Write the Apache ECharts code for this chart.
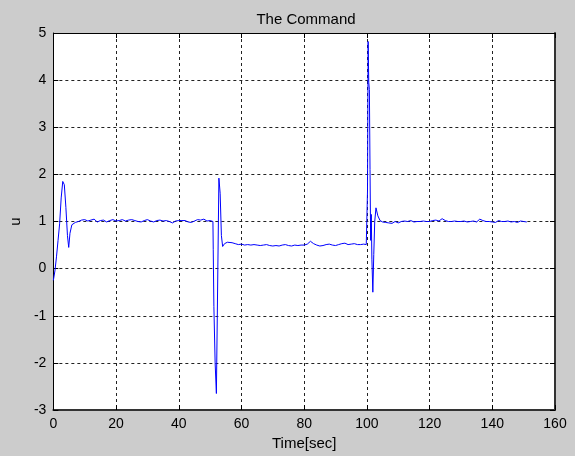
<!DOCTYPE html>
<html>
<head>
<meta charset="utf-8">
<script src="https://cdn.jsdelivr.net/npm/echarts@6/dist/echarts.min.js"></script>
<style>
html,body{margin:0;padding:0;background:#cccccc;}
#chart{width:575px;height:456px;}
</style>
</head>
<body>
<div id="chart"></div>
<script>
// ---- data ----
const titleText = "The Command";
const xLabel = "Time[sec]";
const yLabel = "u";
const xTicks = [0, 20, 40, 60, 80, 100, 120, 140, 160];
const yTicks = [-3, -2, -1, 0, 1, 2, 3, 4, 5];

const time = [
  0, 0.5, 1.0, 1.5, 2.0, 2.5, 3.0, 3.5, 4.0, 4.5, 4.9, 5.3, 5.9, 6.5, 7.0,
  8, 9, 10, 11, 12, 13, 14, 15, 16, 17, 18, 19, 20, 21, 22, 23, 24, 25, 26, 27, 28, 29,
  30, 31, 32, 33, 34, 35, 36, 37, 38, 39, 40, 41, 42, 43, 44, 45, 46, 47, 48, 49, 50, 50.5,
  50.9, 51.0, 51.2, 51.6, 52.0, 52.8, 53.2, 53.6, 54.0, 54.6, 55.5,
  56, 57, 58, 59, 60, 61, 62, 63, 64, 65, 66, 67, 68, 69, 70, 71, 72, 73, 74, 75, 76, 77, 78, 79,
  80, 81, 82, 83, 84, 85, 86, 87, 88, 89, 90, 91, 92, 93, 94, 95, 96, 97, 98, 99, 99.8,
  100.0, 100.2, 100.4, 100.6, 100.8, 101.0, 101.2, 101.4, 101.6, 101.9, 102.2, 102.5, 102.9, 103.5, 104.2,
  105, 106, 107, 108, 109, 110, 111, 112, 113, 114, 115, 116, 117, 118, 119, 120, 121, 122, 123, 124,
  125, 126, 127, 128, 129, 130, 131, 132, 133, 134, 135, 136, 137, 138, 139, 140, 141, 142, 143, 144,
  145, 146, 147, 148, 149, 150, 151
];
const u = [
  -0.25, -0.05, 0.25, 0.6, 0.95, 1.5, 1.85, 1.78, 1.3, 0.7, 0.45, 0.75, 0.93, 0.97, 0.98,
  1.00, 1.03, 1.04, 1.01, 1.03, 1.05, 0.99, 1.02, 1.03, 0.99, 1.02, 1.04, 1.01, 1.02, 1.04, 1.01, 1.03, 1.04, 1.02, 1.00, 0.99, 1.02,
  1.04, 1.01, 0.99, 1.02, 1.03, 1.01, 1.02, 1.00, 0.97, 1.01, 1.02, 1.02, 1.02, 0.99, 0.98, 1.01, 1.04, 1.03, 1.05, 1.01, 1.02, 1.01,
  1.00, 0.40, -0.80, -2.00, -2.65, 1.92, 1.60, 0.70, 0.47, 0.53, 0.56,
  0.54, 0.55, 0.53, 0.51, 0.52, 0.50, 0.51, 0.50, 0.51, 0.50, 0.49, 0.50, 0.51, 0.49, 0.48, 0.49, 0.48, 0.50, 0.51, 0.49, 0.48, 0.50, 0.49, 0.50,
  0.50, 0.52, 0.58, 0.53, 0.50, 0.48, 0.49, 0.51, 0.52, 0.50, 0.49, 0.51, 0.53, 0.54, 0.51, 0.52, 0.53, 0.51, 0.51, 0.52, 0.51,
  0.55, 1.65, 4.82, 3.95, 3.80, 2.10, 0.60, 1.15, 0.20, -0.50, 0.30, 1.00, 1.29, 1.12, 1.02,
  0.99, 0.98, 0.97, 0.96, 1.00, 0.97, 1.00, 1.01, 1.00, 1.02, 0.99, 1.00, 1.00, 1.01, 1.00, 1.00, 1.02, 1.03, 1.01, 1.06,
  1.02, 1.00, 1.00, 1.01, 1.00, 1.00, 1.01, 0.99, 1.00, 1.01, 0.99, 1.05, 1.02, 1.00, 1.00, 0.99, 0.98, 1.02, 1.00, 1.00,
  1.01, 0.99, 1.00, 0.98, 1.01, 1.00, 0.99
];

const seriesData = time.map((t, i) => [t, u[i]]);

const FONT = "'Liberation Sans', Arial, sans-serif";
const xMin = xTicks[0], xMax = xTicks[xTicks.length - 1], xStep = xTicks[1] - xTicks[0];
const yMin = yTicks[0], yMax = yTicks[yTicks.length - 1], yStep = yTicks[1] - yTicks[0];

const chart = echarts.init(document.getElementById('chart'), null, {renderer: 'canvas'});
const gridLine = {show: true, lineStyle: {color: '#222', width: 1, type: [3, 3]}};
chart.setOption({
  backgroundColor: '#cccccc',
  animation: false,
  title: {
    text: titleText,
    left: 301, top: 7, textAlign: 'center',
    textStyle: {fontFamily: FONT, fontSize: 15, fontWeight: 'normal', color: '#000'}
  },
  grid: {left: 53, right: 20, top: 33, bottom: 41, show: true, backgroundColor: '#ffffff', borderWidth: 0},
  xAxis: [{
    type: 'value', min: xMin, max: xMax, interval: xStep,
    name: xLabel, nameLocation: 'middle', nameGap: 26,
    nameTextStyle: {fontFamily: FONT, fontSize: 15, color: '#000'},
    axisLine: {show: true, onZero: false, lineStyle: {color: '#333', width: 2}},
    axisTick: {show: true, inside: true, length: 5, lineStyle: {color: '#000'}},
    axisLabel: {fontFamily: FONT, fontSize: 14, color: '#000', margin: 7},
    splitLine: gridLine
  }, {
    type: 'value', position: 'top', min: xMin, max: xMax, interval: xStep,
    axisLine: {show: true, onZero: false, lineStyle: {color: '#000', width: 1}},
    axisTick: {show: true, inside: true, length: 5, lineStyle: {color: '#000'}},
    axisLabel: {show: false}, splitLine: {show: false}
  }],
  yAxis: [{
    type: 'value', min: yMin, max: yMax, interval: yStep,
    name: yLabel, nameLocation: 'middle', nameGap: 29, nameRotate: 90,
    nameTextStyle: {fontFamily: FONT, fontSize: 15, color: '#000'},
    axisLine: {show: true, onZero: false, lineStyle: {color: '#000', width: 1}},
    axisTick: {show: true, inside: true, length: 5, lineStyle: {color: '#000'}},
    axisLabel: {fontFamily: FONT, fontSize: 14, color: '#000', margin: 7},
    splitLine: gridLine
  }, {
    type: 'value', position: 'right', min: yMin, max: yMax, interval: yStep,
    axisLine: {show: true, onZero: false, lineStyle: {color: '#333', width: 2}},
    axisTick: {show: true, inside: true, length: 5, lineStyle: {color: '#000'}},
    axisLabel: {show: false}, splitLine: {show: false}
  }],
  series: [{
    type: 'line',
    xAxisIndex: 0, yAxisIndex: 0,
    data: seriesData,
    showSymbol: false,
    lineStyle: {color: '#0000ff', width: 1},
    itemStyle: {color: '#0000ff'}
  }]
});
</script>
</body>
</html>
